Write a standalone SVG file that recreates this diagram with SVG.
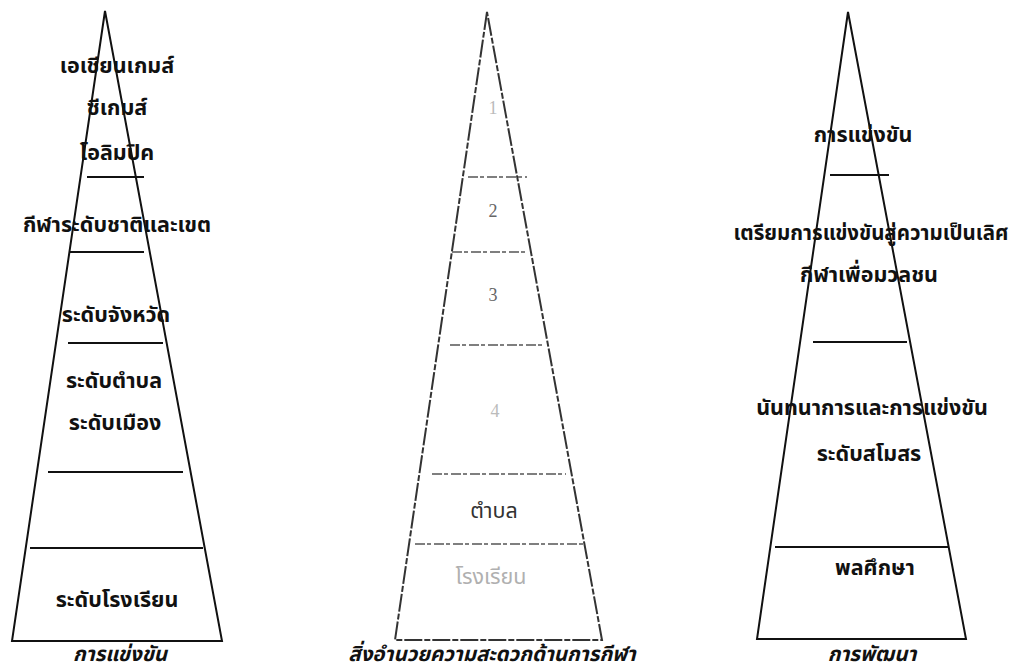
<svg xmlns="http://www.w3.org/2000/svg" width="1013" height="668" viewBox="0 0 1013 668">
<style>
.tri{fill:none;stroke:#111;stroke-width:2;stroke-linejoin:miter}
.ln{stroke:#111;stroke-width:2}
.tri2{fill:none;stroke:#333;stroke-width:2;stroke-dasharray:18 2 6 2}
.ln2{stroke:#555;stroke-width:1.6;stroke-dasharray:10 2 4 3}
.t{font-family:"Noto Sans Thai","Noto Sans","DejaVu Sans",sans-serif;font-size:21.5px;font-weight:bold;fill:#111;text-anchor:middle}
.n{font-family:"Liberation Serif",serif;font-size:18px;font-weight:normal;fill:#666}
.f{fill:#b0b0b0;font-weight:normal}
.cap{font-style:italic;font-size:20.5px}
</style>
<rect width="1013" height="668" fill="#fff"/>
<g id="pyramid-competition">
<polygon class="tri" points="105,11 12,641 222,641"/>
<line class="ln" x1="87" y1="177" x2="144" y2="177"/>
<line class="ln" x1="70" y1="252" x2="144" y2="252"/>
<line class="ln" x1="68" y1="343" x2="163" y2="343"/>
<line class="ln" x1="48" y1="472" x2="183" y2="472"/>
<line class="ln" x1="30" y1="548" x2="203" y2="548"/>
<text class="t" x="117" y="73">เอเชียนเกมส์</text>
<text class="t" x="117" y="115">ซีเกมส์</text>
<text class="t" x="117" y="160">โอลิมปิค</text>
<text class="t" x="117" y="232">กีฬาระดับชาติและเขต</text>
<text class="t" x="116" y="322">ระดับจังหวัด</text>
<text class="t" x="114" y="388">ระดับตำบล</text>
<text class="t" x="115" y="430">ระดับเมือง</text>
<text class="t" x="117" y="607">ระดับโรงเรียน</text>
<text class="t cap" x="120" y="661">การแข่งขัน</text>
</g>
<g id="pyramid-facilities">
<polygon class="tri2" points="487,12 395,640 602,640"/>
<line class="ln2" x1="468" y1="177" x2="527" y2="177"/>
<line class="ln2" x1="452" y1="252" x2="527" y2="252"/>
<line class="ln2" x1="450" y1="345" x2="545" y2="345"/>
<line class="ln2" x1="432" y1="474" x2="566" y2="474"/>
<line class="ln2" x1="415" y1="544" x2="584" y2="544"/>
<text class="t n" x="493" y="114" style="fill:#bbb">1</text>
<text class="t n" x="493" y="217">2</text>
<text class="t n" x="493" y="301">3</text>
<text class="t n" x="495" y="417" style="fill:#bbb">4</text>
<text class="t" x="494" y="518" style="font-weight:normal;fill:#333">ตำบล</text>
<text class="t f" x="491" y="584">โรงเรียน</text>
<text class="t cap" x="492" y="661">สิ่งอำนวยความสะดวกด้านการกีฬา</text>
</g>
<g id="pyramid-development">
<polygon class="tri" points="848,12 757,639 966,639"/>
<line class="ln" x1="830" y1="175" x2="889" y2="175"/>
<line class="ln" x1="813" y1="342" x2="907" y2="342"/>
<line class="ln" x1="775" y1="547" x2="948" y2="547"/>
<text class="t" x="863" y="142">การแข่งขัน</text>
<text class="t" x="871" y="240" style="font-size:20.5px">เตรียมการแข่งขันสู่ความเป็นเลิศ</text>
<text class="t" x="869" y="282">กีฬาเพื่อมวลชน</text>
<text class="t" x="872" y="415">นันทนาการและการแข่งขัน</text>
<text class="t" x="869" y="461">ระดับสโมสร</text>
<text class="t" x="875" y="575">พลศึกษา</text>
<text class="t cap" x="872" y="661">การพัฒนา</text>
</g>
</svg>
